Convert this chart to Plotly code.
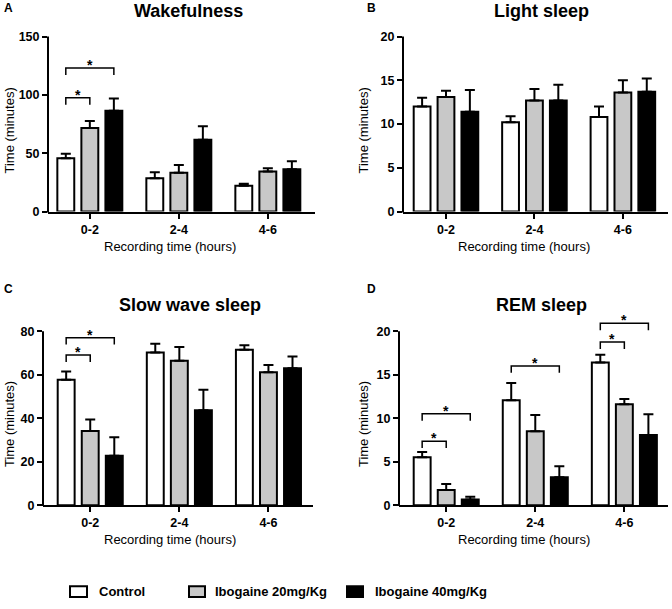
import plotly.graph_objects as go

# ---------------- data ----------------
groups = ["0-2", "2-4", "4-6"]
series = ["Control", "Ibogaine 20mg/Kg", "Ibogaine 40mg/Kg"]
titles = ["Wakefulness", "Light sleep", "Slow wave sleep", "REM sleep"]
letters = ["A", "B", "C", "D"]

# means per series (Control, Ibo20, Ibo40) across groups
wake_mean = [[45.6, 28.6, 22.1], [71.7, 33.2, 34.3], [86.5, 61.5, 36.3]]
wake_sem = [[4.0, 5.1, 1.7], [6.0, 6.8, 2.8], [10.5, 11.6, 6.8]]

light_mean = [[12.0, 10.2, 10.8], [13.1, 12.7, 13.6], [11.4, 12.7, 13.7]]
light_sem = [[1.0, 0.7, 1.2], [0.7, 1.3, 1.4], [2.5, 1.8, 1.5]]

sws_mean = [[57.7, 70.2, 71.4], [34.1, 66.4, 61.1], [22.7, 43.6, 62.9]]
sws_sem = [[3.7, 4.0, 2.1], [5.3, 6.3, 3.3], [8.5, 9.4, 5.4]]

rem_mean = [[5.5, 12.05, 16.4], [1.74, 8.5, 11.6], [0.64, 3.2, 8.07]]
rem_sem = [[0.6, 2.0, 0.9], [0.68, 1.85, 0.6], [0.31, 1.27, 2.38]]

# significance brackets: (group, series_a, series_b, height)
wake_sig = [(0, 0, 1, 97.5), (0, 0, 2, 123)]
light_sig = []
sws_sig = [(0, 0, 1, 69), (0, 0, 2, 77)]
rem_sig = [(0, 0, 1, 7.35), (0, 0, 2, 10.5), (1, 0, 2, 16.0), (2, 0, 1, 18.75), (2, 0, 2, 20.9)]

y_max = [150, 20, 80, 20]
y_step = [50, 5, 20, 5]

# ---------------- layout / style ----------------
W, H = 672, 609
FONT = "Liberation Sans, Arial, sans-serif"
fills = ["white", "rgb(200,200,200)", "black"]
offsets = [-0.27, 0.0, 0.27]
bar_w = 0.19
HEAD = 20  # extra px above axis top

# pixel geometry per panel: x0, x1, y_zero, y_top, x range
geo = [
    (48, 315, 214, 37, [-0.47, 2.53]),
    (403, 668, 214, 37, [-0.486, 2.51]),
    (43, 313, 511, 335, [-0.53, 2.5]),
    (399, 668, 511, 335, [-0.53, 2.49]),
]
title_pos = [(188, 11), (541, 11), (190, 309), (541, 309)]
letter_pos = [(8, 8), (371, 8), (8, 292), (371, 292)]
ytitle_pos = [(9, 132), (363, 132), (9, 429), (363, 429)]
xtitle_pos = [(170, 249), (524, 249), (170, 546), (524, 546)]

def px(x):
    return x / W

def py(y):
    return 1 - y / H

means = [wake_mean, light_mean, sws_mean, rem_mean]
sems = [wake_sem, light_sem, sws_sem, rem_sem]
sigs = [wake_sig, light_sig, sws_sig, rem_sig]

fig = go.Figure()
shapes = []
annotations = []

for p in range(4):
    x0, x1, yz, yt, xr = geo[p]
    ax = "" if p == 0 else str(p + 1)
    xa, ya = "x" + ax, "y" + ax
    plot_h = yz - yt
    rng_top = y_max[p] * (plot_h + HEAD) / plot_h
    for s in range(3):
        xs = [g + offsets[s] for g in range(len(groups))]
        fig.add_trace(go.Bar(
            x=xs, y=means[p][s], width=bar_w,
            marker=dict(color=fills[s], line=dict(color="black", width=2)),
            error_y=dict(type="data", symmetric=False, array=sems[p][s],
                         arrayminus=[0] * len(groups), color="black",
                         thickness=2, width=5),
            name=series[s], showlegend=False,
            xaxis=xa, yaxis=ya,
        ))
    fig.layout["xaxis" + ax] = dict(
        domain=[px(x0), px(x1)], range=xr, anchor=ya,
        tickvals=list(range(len(groups))), ticktext=groups,
        showline=True, linecolor="black", linewidth=2,
        ticks="outside", ticklen=5, tickwidth=2, tickcolor="black",
        showgrid=False, zeroline=False,
        tickfont=dict(family=FONT, size=12.5, color="black", weight="bold"),
    )
    fig.layout["yaxis" + ax] = dict(
        domain=[py(yz), py(yt - HEAD)], range=[0, rng_top], anchor=xa,
        tickvals=list(range(0, y_max[p] + 1, y_step[p])),
        showline=False, ticks="outside", ticklen=5, tickwidth=2, tickcolor="black",
        showgrid=False, zeroline=False,
        tickfont=dict(family=FONT, size=12.5, color="black", weight="bold"),
    )
    # y axis line (only up to the top tick)
    shapes.append(dict(type="line", xref="paper", yref="paper",
                       x0=px(x0), x1=px(x0), y0=py(yz + 1), y1=py(yt),
                       line=dict(color="black", width=2)))
    # significance brackets
    drop = 7 * rng_top / (plot_h + HEAD)
    for (g, a, b, h) in sigs[p]:
        xa0 = g + offsets[a]
        xb0 = g + offsets[b]
        shapes.append(dict(type="path", xref=xa, yref=ya,
                           path=f"M {xa0},{h - drop} L {xa0},{h} L {xb0},{h} L {xb0},{h - drop}",
                           line=dict(color="black", width=1.5)))
        annotations.append(dict(xref=xa, yref=ya, x=(xa0 + xb0) / 2, y=h,
                                text="*", showarrow=False, yanchor="bottom", yshift=-7,
                                font=dict(family=FONT, size=14, color="black", weight="bold")))
    # titles & labels
    annotations.append(dict(xref="paper", yref="paper", x=px(title_pos[p][0]), y=py(title_pos[p][1]),
                            text=titles[p], showarrow=False, xanchor="center", yanchor="middle",
                            font=dict(family=FONT, size=18, color="black", weight="bold")))
    annotations.append(dict(xref="paper", yref="paper", x=px(letter_pos[p][0]), y=py(letter_pos[p][1]),
                            text=letters[p], showarrow=False, xanchor="center", yanchor="middle",
                            font=dict(family=FONT, size=12, color="black", weight="bold")))
    annotations.append(dict(xref="paper", yref="paper", x=px(ytitle_pos[p][0]), y=py(ytitle_pos[p][1]),
                            text="Time (minutes)", showarrow=False, textangle=-90,
                            xanchor="center", yanchor="middle",
                            font=dict(family=FONT, size=13, color="black")))
    annotations.append(dict(xref="paper", yref="paper", x=px(xtitle_pos[p][0]), y=py(xtitle_pos[p][1]),
                            text="Recording time (hours)", showarrow=False,
                            xanchor="center", yanchor="middle",
                            font=dict(family=FONT, size=13, color="black")))

# legend (drawn manually)
leg_boxes = [(70, 87), (189, 205), (347, 363)]
leg_text_x = [97, 213, 373]
leg_y0, leg_y1 = 593, 604
for s in range(3):
    bx0, bx1 = leg_boxes[s]
    shapes.append(dict(type="rect", xref="paper", yref="paper",
                       x0=px(bx0), x1=px(bx1), y0=py(leg_y1), y1=py(leg_y0),
                       fillcolor=fills[s], line=dict(color="black", width=2)))
    annotations.append(dict(xref="paper", yref="paper", x=px(leg_text_x[s]), y=py((leg_y0 + leg_y1) / 2),
                            text=series[s], showarrow=False, xanchor="left", yanchor="middle",
                            font=dict(family=FONT, size=13, color="black", weight="bold")))

fig.update_layout(
    width=W, height=H,
    margin=dict(l=0, r=0, t=0, b=0),
    paper_bgcolor="white", plot_bgcolor="white",
    barmode="overlay",
    shapes=shapes, annotations=annotations,
    showlegend=False,
    font=dict(family=FONT, color="black"),
)

fig.write_html("out.html", config={"displayModeBar": False},
               post_script="document.body.style.margin='0';document.body.style.overflow='hidden';")
